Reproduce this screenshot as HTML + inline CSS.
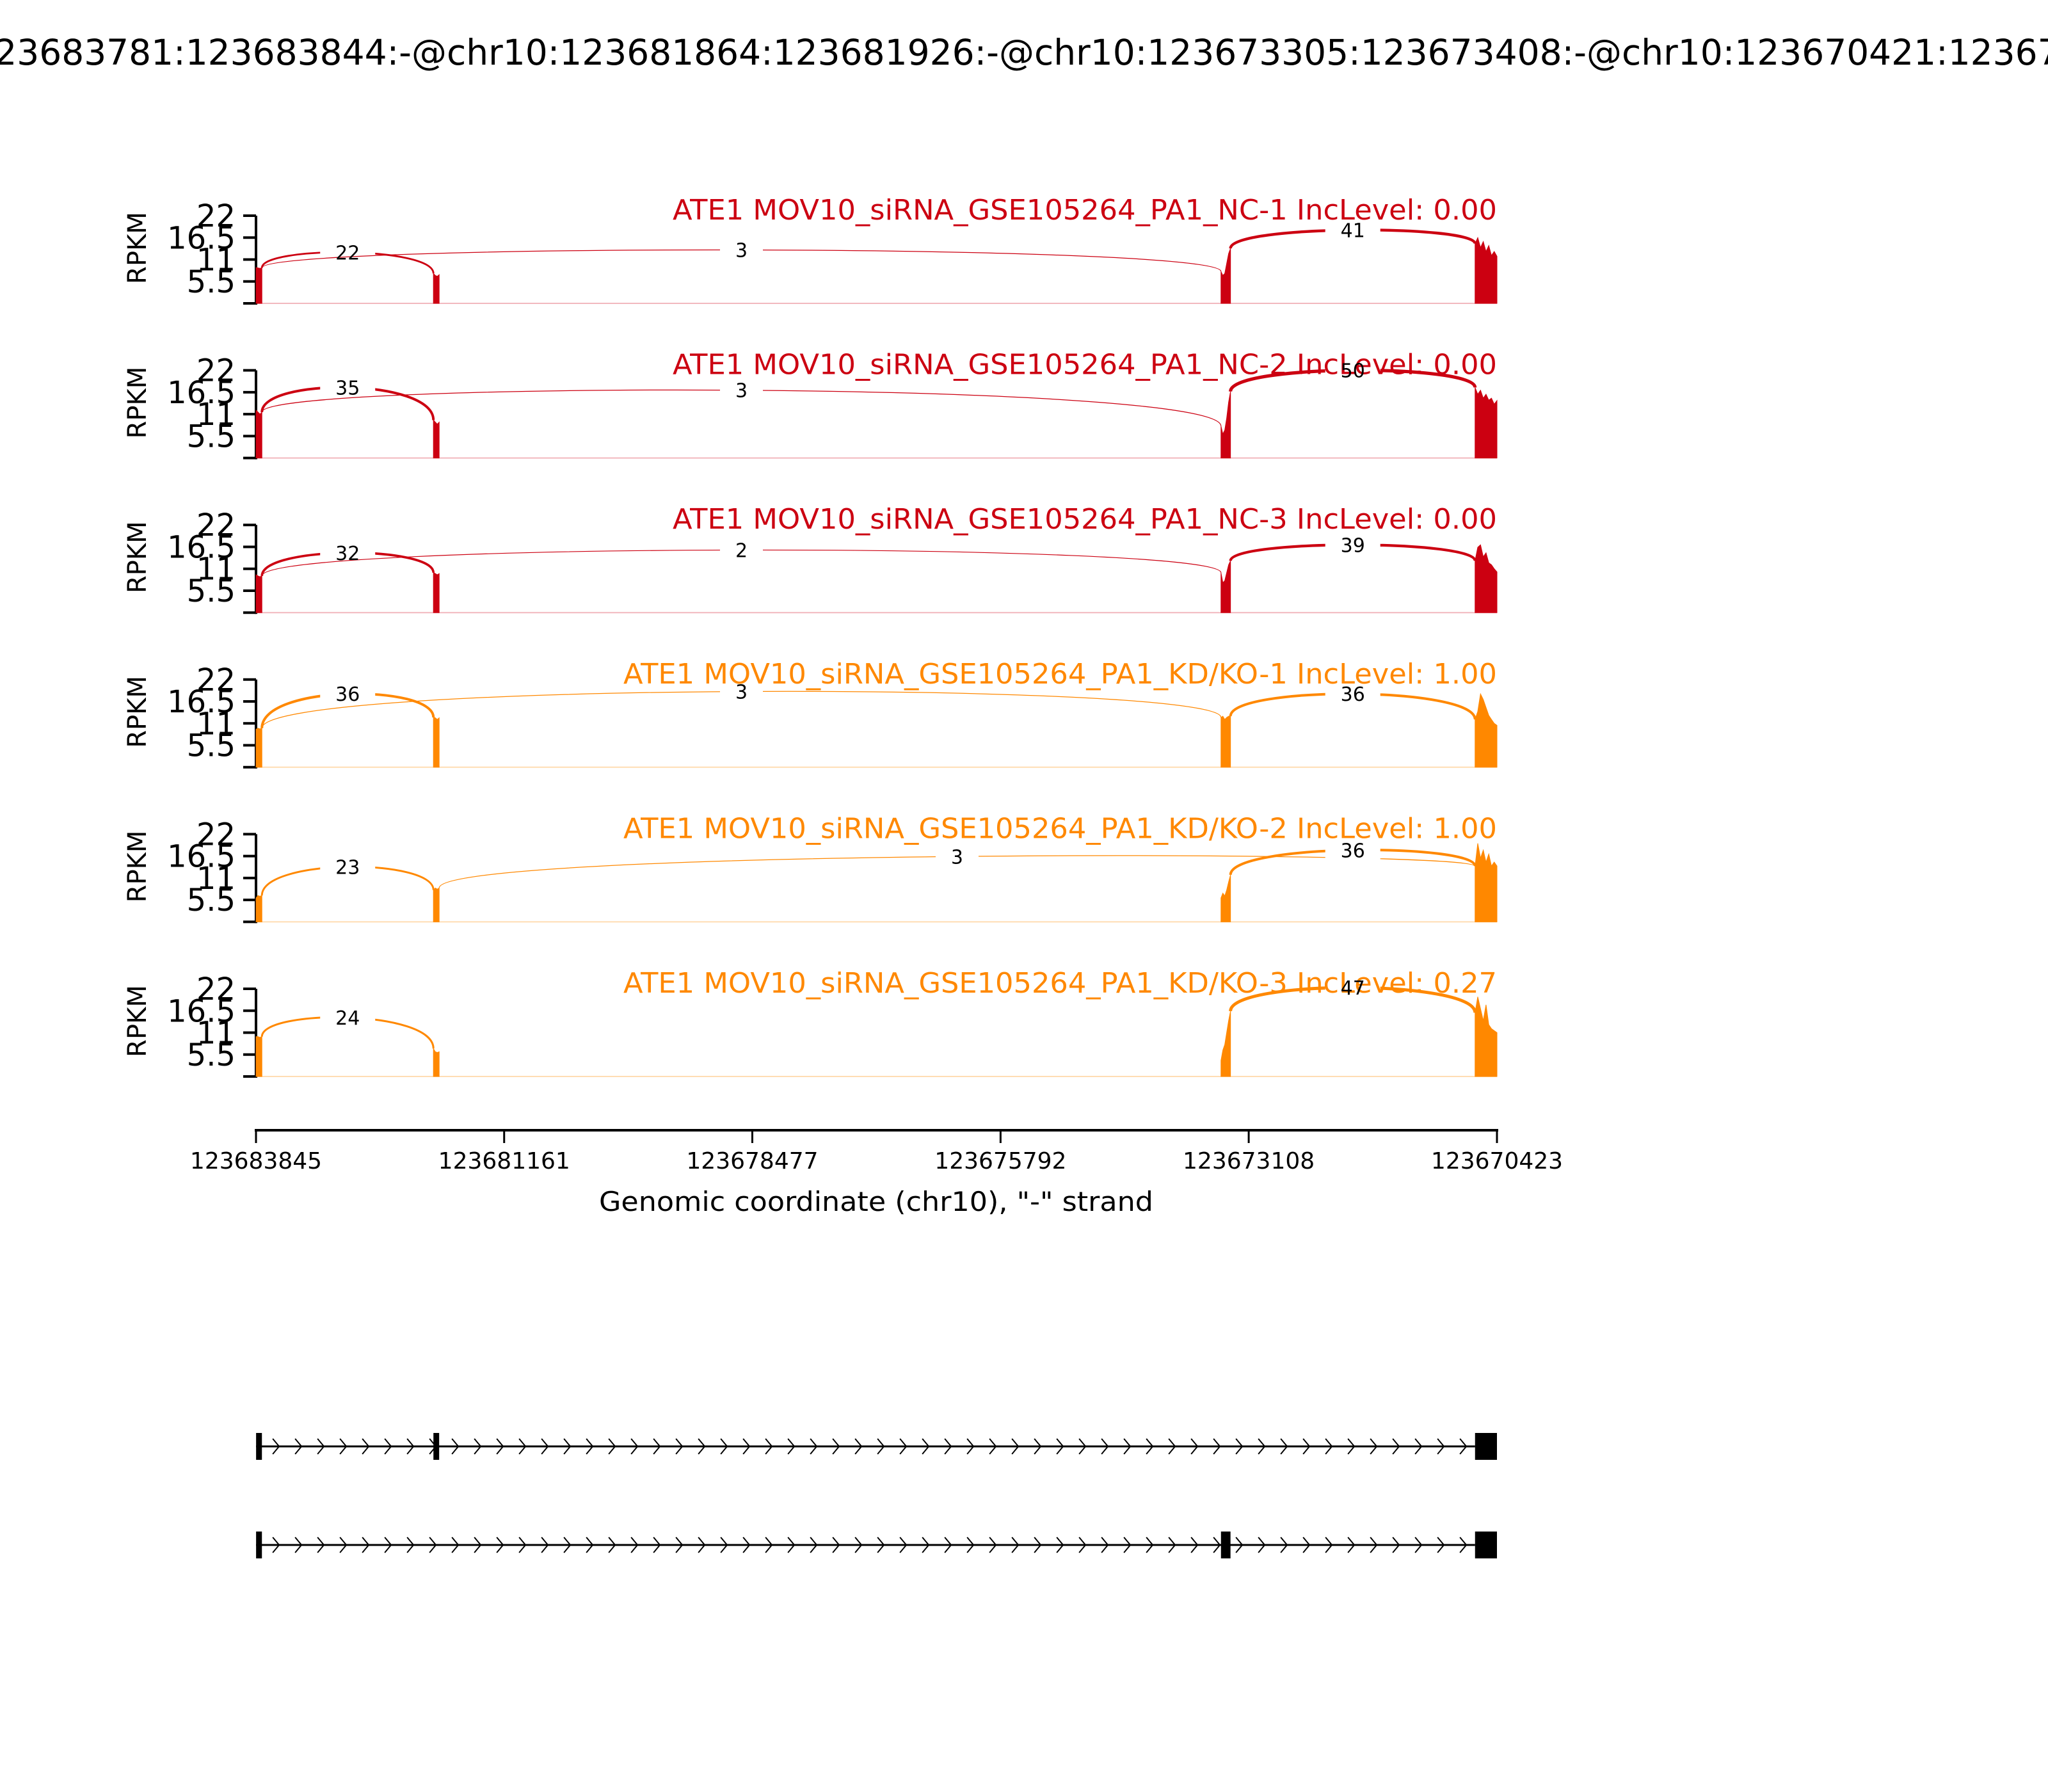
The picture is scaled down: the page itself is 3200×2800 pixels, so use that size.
<!DOCTYPE html>
<html><head><meta charset="utf-8"><style>
html,body{margin:0;padding:0;background:#fff;}
svg{display:block;font-family:"DejaVu Sans","Liberation Sans",sans-serif;}
</style></head><body>
<svg id="fig" width="3200" height="2800" viewBox="0 0 3200 2800" xmlns="http://www.w3.org/2000/svg">
<rect x="0" y="0" width="3200" height="2800" fill="#fff"/>
<text x="-220" y="101" font-size="55" fill="#000">chr10:123683781:123683844:-@chr10:123681864:123681926:-@chr10:123673305:123673408:-@chr10:123670421:123670665:-</text>
<g id="panels"></g>
<g id="xaxis"></g>
<g id="genes"></g>
</svg>
<script>
// ---- data ----
const sampleNames = ["ATE1 MOV10_siRNA_GSE105264_PA1_NC-1 IncLevel: 0.00","ATE1 MOV10_siRNA_GSE105264_PA1_NC-2 IncLevel: 0.00","ATE1 MOV10_siRNA_GSE105264_PA1_NC-3 IncLevel: 0.00","ATE1 MOV10_siRNA_GSE105264_PA1_KD/KO-1 IncLevel: 1.00","ATE1 MOV10_siRNA_GSE105264_PA1_KD/KO-2 IncLevel: 1.00","ATE1 MOV10_siRNA_GSE105264_PA1_KD/KO-3 IncLevel: 0.27"];
const sampleGroup = [0,0,0,1,1,1];
const exonStarts = [123683844,123681926,123673408,123670660];
const exonEnds = [123683781,123681864,123673305,123670423];
const yTicks = [5.5,11,16.5,22];
const yTickLabels = ["5.5","11","16.5","22"];
const xTickCoords = [123683845,123681161,123678477,123675792,123673108,123670423];
const xTickLabels = ["123683845","123681161","123678477","123675792","123673108","123670423"];
// coverage (RPKM) per sample per exon
const cov1 = [[9,8.9,8.8,8.9],[7.5,7,6.8,7.2],[8,7,7.5,10,12.5,13.8],[15,16.5,14,15.5,13,14.5,12,13,11.8]];
const cov2 = [[12,11.5,11,11.5],[9.5,9,8.5,9],[8,6,7,10,14,16.7],[17.7,16,17,15,16,14.5,15,13.5,14.4]];
const cov3 = [[9.5,9.2,9,9.2],[10,9.8,9.5,9.8],[10,7.5,8,10,12,13],[13,16.4,17,14,15,12.5,12,11,10.2]];
const cov4 = [[9.5,9.8,9.6,9.8],[12.5,12.4,12,12.4],[12.5,12.8,12,12.5,12.8,12.8],[12,14,18.4,17,15,13,12,11,10.5]];
const cov5 = [[6,6.6,6.4,6.6],[8,8.5,8.2,8.5],[6,7.2,6.5,8,10,11.8],[14,19.7,16,18,15,17,14,15,14]];
const cov6 = [[10,10,9.8,10],[7,6.2,6,6.2],[4,6.6,8,11,14,16.4],[16,20,17,14,18,13,12,11.5,11]];
const coverage = [cov1,cov2,cov3,cov4,cov5,cov6];
// junctions: from-exon index, to-exon index, read count, arc peak (RPKM)
const junFrom = [[0,0,2],[0,0,2],[0,0,2],[0,0,2],[0,1,2],[0,2]];
const junTo = [[1,2,3],[1,2,3],[1,2,3],[1,2,3],[1,3,3],[1,3]];
const junCount = [[22,3,41],[35,3,50],[32,2,39],[36,3,36],[23,3,36],[24,47]];
const junPeak = [[12.8,13.4,18.4],[17.7,17,22],[15,15.7,17],[18.4,19,18.4],[13.8,16.4,18],[14.8,22.3]];

const NS="http://www.w3.org/2000/svg";
const X0=400, X1=2339, G0=123683845, G1=123670423;
function xs(c){return X0+(G0-c)/(G0-G1)*(X1-X0);}
const PH=137;
function panelTop(i){return 337+i*241.6;}
function ys(v,top){return top+PH*(1-v/22);}
function mk(tag,attrs,parent){const e=document.createElementNS(NS,tag);for(const k in attrs)e.setAttribute(k,attrs[k]);parent.appendChild(e);return e;}
const colors=["#CC0011","#FF8800"];
const pale=["#F2B8BE","#FFDDB3"];

const panels=document.getElementById('panels');
for(let s=0;s<6;s++){
  const top=panelTop(s), bot=top+PH, col=colors[sampleGroup[s]];
  const g=mk('g',{},panels);
  
  
  const bl=mk('line',{x1:X0,x2:X1,y1:bot,y2:bot,stroke:pale[sampleGroup[s]],'stroke-width':2},g);
  
  
  const ax=mk('line',{x1:X0,x2:X0,y1:top,y2:bot+2,stroke:'#000','stroke-width':4},g);
  
  
  const t0=mk('line',{x1:X0-20,x2:X0,y1:bot,y2:bot,stroke:'#000','stroke-width':4},g);
  
  
  yTicks.forEach((v,k)=>{
    const y=ys(v,top);
    const tk=mk('line',{x1:X0-20,x2:X0,y1:y,y2:y,stroke:'#000','stroke-width':4},g);
    
    
    const tl=mk('text',{x:X0-32,y:y+17,'font-size':48,'text-anchor':'end',fill:'#000'},g);
    tl.textContent=yTickLabels[k];
    
    
  });
  const yl=mk('text',{x:0,y:0,'font-size':40,'text-anchor':'middle',fill:'#000',transform:`translate(228,${top+PH/2-18}) rotate(-90)`},g);
  yl.textContent='RPKM';
  
  
  const cv=coverage[s];
  for(let e=0;e<4;e++){
    const xa=xs(exonStarts[e]), xb=Math.max(xs(exonEnds[e]),xa+4);
    const vals=cv[e], n=vals.length;
    let d=`M${xa},${bot}`;
    vals.forEach((v,k)=>{const x=xa+(xb-xa)*k/(n-1);d+=` L${x.toFixed(1)},${ys(v,top).toFixed(1)}`;});
    d+=` L${xb},${bot} Z`;
    const p=mk('path',{d:d,fill:col,stroke:col,'stroke-width':1},g);
    
    
  }
  const labels=[];
  for(let j=0;j<junFrom[s].length;j++){
    const fe=junFrom[s][j], te=junTo[s][j], cnt=junCount[s][j], pk=junPeak[s][j];
    const xa=Math.max(xs(exonEnds[fe]),xs(exonStarts[fe])+4), xb=xs(exonStarts[te]);
    const fv=cv[fe], tv=cv[te];
    const ya=ys(fv[fv.length-1],top), yb=ys(tv[0],top), yp=ys(pk,top);
    const c=(8*yp-ya-yb)/6;
    const lw=1+cnt/12;
    const arc=mk('path',{d:`M${xa},${ya} C${xa},${c} ${xb},${c} ${xb},${yb}`,fill:'none',stroke:col,'stroke-width':lw},g);
    
    
    const xm=(xa+xb)/2, lab=String(cnt);
    const w=lab.length*19+48;
    const bg=mk('rect',{x:xm-w/2,y:yp-18,width:w,height:36,fill:'#fff'},g);
    
    
    labels.push([xm,yp,lab]);
  }
  const tlen = sampleGroup[s]===0 ? 1288 : 1365;
  const tt=mk('text',{x:X1,y:top+6,'font-size':44,'text-anchor':'end',fill:col,textLength:tlen,lengthAdjust:'spacingAndGlyphs'},g);
  tt.textContent=sampleNames[s];
  
  
  labels.forEach(L=>{
    const lt=mk('text',{x:L[0],y:L[1]+11,'font-size':30,'text-anchor':'middle',fill:'#000'},g);
    lt.textContent=L[2];
    
    
  });
}
const xa=document.getElementById('xaxis');
const axl=mk('line',{x1:X0-2,x2:X1+2,y1:1766,y2:1766,stroke:'#000','stroke-width':4},xa);


xTickCoords.forEach((c,k)=>{
  const x=xs(c);
  const tk=mk('line',{x1:x,x2:x,y1:1766,y2:1786,stroke:'#000','stroke-width':3},xa);
  
  
  const tl=mk('text',{x:x,y:1826,'font-size':36,'text-anchor':'middle',fill:'#000'},xa);
  tl.textContent=xTickLabels[k];
  
  
});
const xt=mk('text',{x:1369,y:1892,'font-size':42,'text-anchor':'middle',fill:'#000',textLength:866,lengthAdjust:'spacingAndGlyphs'},xa);
xt.textContent='Genomic coordinate (chr10), "-" strand';


const isoforms=[[0,1,3],[0,2,3]];
const isoY=[2260,2414];
const gg=document.getElementById('genes');
isoforms.forEach((iso,i)=>{
  const y=isoY[i];
  const g=mk('g',{},gg);
  
  
  const xa0=xs(exonStarts[iso[0]]), xb0=xs(exonStarts[iso[iso.length-1]]);
  const ln=mk('line',{x1:xa0,x2:xb0,y1:y,y2:y,stroke:'#000','stroke-width':3},g);
  
  
  for(let x=xa0+32;x<xb0-6;x+=35){
    const ch=mk('polyline',{points:`${x-6},${y-12} ${x+4},${y} ${x-6},${y+12}`,fill:'none',stroke:'#000','stroke-width':2},g);
    
    
  }
  iso.forEach(e=>{
    const a=xs(exonStarts[e]), b=Math.max(xs(exonEnds[e]),a+7);
    const r=mk('rect',{x:a,y:y-21,width:b-a,height:42,fill:'#000'},g);
    
    
  });
});
</script>
</body></html>
